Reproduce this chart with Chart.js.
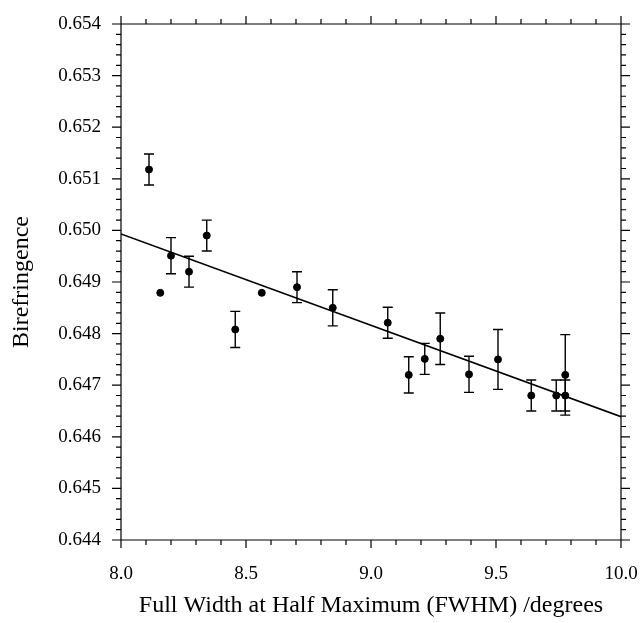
<!DOCTYPE html>
<html>
<head>
<meta charset="utf-8">
<script src="https://cdn.jsdelivr.net/npm/chart.js@4/dist/chart.umd.min.js"></script>
<style>
  html, body { margin: 0; padding: 0; background: #fff; }
  #wrap { width: 640px; height: 623px; }
</style>
</head>
<body>
<div id="wrap"><canvas id="biref-chart" width="640" height="623"></canvas></div>
<script>
// measured points (FWHM in degrees, birefringence, +/- error)
const fwhm = [8.112, 8.157, 8.200, 8.272, 8.343, 8.457, 8.563, 8.704, 8.847, 9.067,
              9.151, 9.215, 9.277, 9.392, 9.508, 9.641, 9.741, 9.777, 9.777];
const biref = [0.65118, 0.64879, 0.64951, 0.64920, 0.64990, 0.64808, 0.64879, 0.64890, 0.64850, 0.64821,
               0.64720, 0.64751, 0.64790, 0.64721, 0.64750, 0.64680, 0.64680, 0.64680, 0.64720];
const birefErr = [0.0003, 0, 0.00035, 0.0003, 0.0003, 0.00035, 0, 0.0003, 0.00035, 0.0003,
                  0.00035, 0.0003, 0.0005, 0.00035, 0.00058, 0.0003, 0.0003, 0.0003, 0.00078];

// linear fit
const fitX = [8.0, 10.0];
const fitY = [0.64993, 0.64639];

// axis ticks
const xTicks = [8.0, 8.5, 9.0, 9.5, 10.0];
const yTicks = [0.644, 0.645, 0.646, 0.647, 0.648, 0.649, 0.650, 0.651, 0.652, 0.653, 0.654];

document.addEventListener("DOMContentLoaded", () => {
    const canvas = document.getElementById("biref-chart");
    const ctx = canvas.getContext("2d");

    // error bars with caps
    const errorBars = {
        id: "errorBars",
        afterDatasetsDraw(chart) {
            const { ctx, scales: { x, y } } = chart;
            ctx.save();
            ctx.strokeStyle = "#000";
            ctx.lineWidth = 1.4;
            fwhm.forEach((v, i) => {
                if (!birefErr[i]) return;
                const px = x.getPixelForValue(v);
                const top = y.getPixelForValue(biref[i] + birefErr[i]);
                const bot = y.getPixelForValue(biref[i] - birefErr[i]);
                ctx.beginPath();
                ctx.moveTo(px, top); ctx.lineTo(px, bot);
                ctx.moveTo(px - 5, top); ctx.lineTo(px + 5, top);
                ctx.moveTo(px - 5, bot); ctx.lineTo(px + 5, bot);
                ctx.stroke();
            });
            ctx.restore();
        }
    };

    // box frame + major/minor tick marks on all four sides
    const frameTicks = {
        id: "frameTicks",
        afterDraw(chart) {
            const { ctx, chartArea: a, scales: { x, y } } = chart;
            ctx.save();
            ctx.strokeStyle = "#000";
            ctx.lineWidth = 1.2;
            ctx.beginPath();
            ctx.rect(a.left, a.top, a.right - a.left, a.bottom - a.top);
            // x: minor every 0.1
            for (let k = 0; k <= 20; k++) {
                const px = x.getPixelForValue(8 + k * 0.1);
                const len = k % 5 === 0 ? 8 : 5;
                ctx.moveTo(px, a.bottom); ctx.lineTo(px, a.bottom + len);
                ctx.moveTo(px, a.top); ctx.lineTo(px, a.top - len);
            }
            // y: minor every 0.0002
            for (let k = 0; k <= 50; k++) {
                const py = y.getPixelForValue(0.644 + k * 0.0002);
                const len = k % 5 === 0 ? 9 : 5;
                ctx.moveTo(a.left, py); ctx.lineTo(a.left - len, py);
                ctx.moveTo(a.right, py); ctx.lineTo(a.right + len, py);
            }
            ctx.stroke();
            ctx.restore();
        }
    };

    const serif = "'Liberation Serif', 'Times New Roman', serif";

    new Chart(ctx, {
        type: "scatter",
        data: {
            datasets: [
                {
                    label: "Fit",
                    type: "line",
                    data: fitX.map((v, i) => ({ x: v, y: fitY[i] })),
                    borderColor: "#000",
                    borderWidth: 1.6,
                    pointRadius: 0,
                    fill: false
                },
                {
                    label: "Birefringence",
                    data: fwhm.map((v, i) => ({ x: v, y: biref[i] })),
                    backgroundColor: "#000",
                    borderColor: "#000",
                    pointRadius: 3.5
                }
            ]
        },
        options: {
            responsive: false,
            animation: false,
            layout: { padding: { left: 0, top: 24, right: 19, bottom: 0 } },
            plugins: {
                legend: { display: false },
                tooltip: { enabled: false }
            },
            scales: {
                x: {
                    type: "linear",
                    min: 8, max: 10,
                    afterFit(s) { s.height = 83; s.paddingLeft = 0; s.paddingRight = 0; },
                    afterBuildTicks(s) { s.ticks = xTicks.map(v => ({ value: v })); },
                    grid: { display: false, drawTicks: false },
                    border: { display: false },
                    ticks: {
                        padding: 23,
                        color: "#000",
                        font: { family: serif, size: 19 },
                        callback: v => v.toFixed(1)
                    },
                    title: {
                        display: true,
                        text: "Full Width at Half Maximum (FWHM) /degrees",
                        color: "#000",
                        font: { family: serif, size: 24 },
                        padding: 3
                    }
                },
                y: {
                    type: "linear",
                    min: 0.644, max: 0.654,
                    afterFit(s) { s.width = 121; s.paddingTop = 0; s.paddingBottom = 0; },
                    afterBuildTicks(s) { s.ticks = yTicks.map(v => ({ value: v })); },
                    grid: { display: false, drawTicks: false },
                    border: { display: false },
                    ticks: {
                        padding: 20,
                        color: "#000",
                        font: { family: serif, size: 19 },
                        callback: v => v.toFixed(3)
                    },
                    title: {
                        display: true,
                        text: "Birefringence",
                        color: "#000",
                        font: { family: serif, size: 24 },
                        padding: 7
                    }
                }
            }
        },
        plugins: [errorBars, frameTicks]
    });
});
</script>
</body>
</html>
